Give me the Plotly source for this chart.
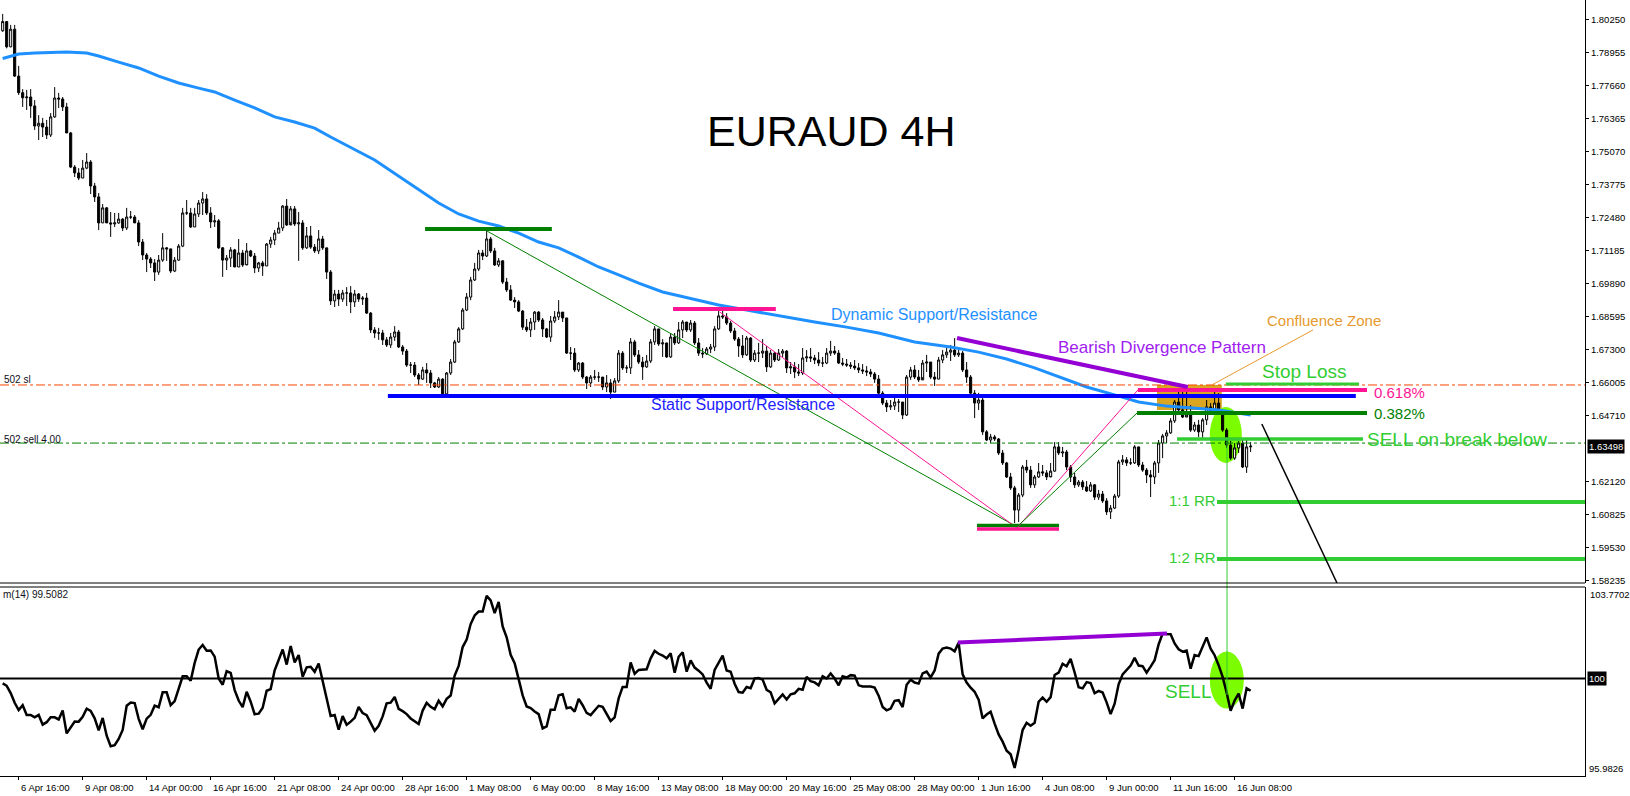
import plotly.graph_objects as go

# ---------------- data (EURAUD, 4H bars, bar 0 = 6 Apr 00:00) ----------------
first_open = 1.7980
closes = [
    1.8016, 1.7917, 1.7986, 1.7802, 1.7737, 1.7717, 1.7720, 1.7685, 1.7606, 1.7617,
    1.7602, 1.7571, 1.7642, 1.7716, 1.7712, 1.7681, 1.7579, 1.7445, 1.7422, 1.7402,
    1.7441, 1.7465, 1.7371, 1.7328, 1.7226, 1.7285, 1.7226, 1.7222, 1.7226, 1.7241,
    1.7206, 1.7249, 1.7249, 1.7226, 1.7151, 1.7100, 1.7084, 1.7069, 1.7033, 1.7080,
    1.7128, 1.7124, 1.7037, 1.7080, 1.7135, 1.7265, 1.7265, 1.7210, 1.7261, 1.7304,
    1.7320, 1.7265, 1.7230, 1.7234, 1.7128, 1.7080, 1.7088, 1.7120, 1.7053, 1.7108,
    1.7061, 1.7116, 1.7096, 1.7049, 1.7069, 1.7057, 1.7143, 1.7159, 1.7186, 1.7206,
    1.7292, 1.7218, 1.7281, 1.7222, 1.7226, 1.7128, 1.7175, 1.7131, 1.7116, 1.7163,
    1.7128, 1.7033, 1.6920, 1.6947, 1.6927, 1.6951, 1.6951, 1.6916, 1.6947, 1.6927,
    1.6931, 1.6872, 1.6806, 1.6794, 1.6794, 1.6767, 1.6747, 1.6778, 1.6798, 1.6739,
    1.6723, 1.6668, 1.6668, 1.6629, 1.6613, 1.6649, 1.6637, 1.6598, 1.6582, 1.6613,
    1.6555, 1.6637, 1.6680, 1.6759, 1.6810, 1.6884, 1.6935, 1.7002, 1.7045, 1.7108,
    1.7096, 1.7163, 1.7116, 1.7061, 1.7077, 1.6994, 1.6963, 1.6923, 1.6916, 1.6880,
    1.6817, 1.6806, 1.6837, 1.6876, 1.6845, 1.6810, 1.6778, 1.6841, 1.6857, 1.6876,
    1.6853, 1.6715, 1.6715, 1.6649, 1.6676, 1.6621, 1.6598, 1.6621, 1.6621, 1.6621,
    1.6582, 1.6598, 1.6562, 1.6606, 1.6715, 1.6657, 1.6657, 1.6759, 1.6708, 1.6680,
    1.6661, 1.6684, 1.6759, 1.6810, 1.6751, 1.6755, 1.6700, 1.6778, 1.6755, 1.6806,
    1.6837, 1.6806, 1.6833, 1.6755, 1.6715, 1.6712, 1.6731, 1.6739, 1.6810, 1.6861,
    1.6857, 1.6833, 1.6802, 1.6770, 1.6743, 1.6708, 1.6774, 1.6688, 1.6715, 1.6715,
    1.6723, 1.6661, 1.6715, 1.6688, 1.6715, 1.6723, 1.6657, 1.6661, 1.6641, 1.6637,
    1.6696, 1.6700, 1.6696, 1.6688, 1.6676, 1.6676, 1.6715, 1.6723, 1.6715, 1.6676,
    1.6672, 1.6668, 1.6664, 1.6657, 1.6649, 1.6645, 1.6641, 1.6633, 1.6613, 1.6558,
    1.6519, 1.6504, 1.6508, 1.6523, 1.6523, 1.6472, 1.6621, 1.6649, 1.6621, 1.6610,
    1.6676, 1.6680, 1.6621, 1.6613, 1.6688, 1.6708, 1.6719, 1.6727, 1.6708, 1.6715,
    1.6649, 1.6621, 1.6558, 1.6519, 1.6531, 1.6406, 1.6374, 1.6386, 1.6378, 1.6323,
    1.6284, 1.6229, 1.6186, 1.6099, 1.6158, 1.6268, 1.6256, 1.6198, 1.6229, 1.6249,
    1.6245, 1.6229, 1.6252, 1.6347, 1.6323, 1.6327, 1.6268, 1.6229, 1.6198, 1.6209,
    1.6190, 1.6174, 1.6198, 1.6150, 1.6162, 1.6135, 1.6092, 1.6107, 1.6154, 1.6288,
    1.6296, 1.6284, 1.6284, 1.6347, 1.6276, 1.6256, 1.6237, 1.6229, 1.6284, 1.6362,
    1.6390, 1.6402, 1.6449, 1.6523, 1.6492, 1.6464, 1.6472, 1.6413, 1.6433, 1.6406,
    1.6453, 1.6504, 1.6484, 1.6519, 1.6480, 1.6413, 1.6354, 1.6303, 1.6343, 1.6362,
    1.6268, 1.6347, 1.63498,
]
highs = [
    1.8046, 1.8003, 1.8003, 1.8003, 1.7842, 1.7751, 1.7748, 1.7751, 1.7708, 1.7649,
    1.7638, 1.7630, 1.7657, 1.7759, 1.7736, 1.7720, 1.7697, 1.7583, 1.7453, 1.7441,
    1.7473, 1.7500, 1.7473, 1.7383, 1.7343, 1.7300, 1.7288, 1.7269, 1.7265, 1.7265,
    1.7245, 1.7285, 1.7273, 1.7257, 1.7237, 1.7163, 1.7108, 1.7092, 1.7084, 1.7100,
    1.7186, 1.7131, 1.7092, 1.7092, 1.7143, 1.7285, 1.7316, 1.7285, 1.7285, 1.7316,
    1.7347, 1.7339, 1.7288, 1.7257, 1.7241, 1.7131, 1.7100, 1.7131, 1.7124, 1.7163,
    1.7120, 1.7147, 1.7120, 1.7108, 1.7073, 1.7077, 1.7147, 1.7171, 1.7198, 1.7230,
    1.7296, 1.7320, 1.7292, 1.7292, 1.7269, 1.7237, 1.7210, 1.7214, 1.7143, 1.7198,
    1.7175, 1.7128, 1.7041, 1.6963, 1.6963, 1.6963, 1.6974, 1.6978, 1.6963, 1.6951,
    1.6939, 1.6951, 1.6876, 1.6817, 1.6814, 1.6806, 1.6778, 1.6794, 1.6821, 1.6806,
    1.6747, 1.6731, 1.6680, 1.6680, 1.6637, 1.6661, 1.6676, 1.6649, 1.6602, 1.6621,
    1.6617, 1.6641, 1.6692, 1.6767, 1.6817, 1.6892, 1.6951, 1.7014, 1.7069, 1.7120,
    1.7120, 1.7194, 1.7171, 1.7128, 1.7088, 1.7080, 1.7010, 1.6982, 1.6935, 1.6923,
    1.6884, 1.6849, 1.6853, 1.6880, 1.6880, 1.6853, 1.6814, 1.6861, 1.6880, 1.6923,
    1.6876, 1.6853, 1.6739, 1.6735, 1.6680, 1.6680, 1.6625, 1.6629, 1.6649, 1.6641,
    1.6602, 1.6629, 1.6613, 1.6617, 1.6727, 1.6723, 1.6668, 1.6774, 1.6767, 1.6727,
    1.6700, 1.6708, 1.6770, 1.6821, 1.6782, 1.6770, 1.6755, 1.6794, 1.6794, 1.6837,
    1.6845, 1.6837, 1.6845, 1.6841, 1.6774, 1.6735, 1.6739, 1.6751, 1.6821, 1.6880,
    1.6884, 1.6872, 1.6841, 1.6814, 1.6778, 1.6786, 1.6782, 1.6778, 1.6727, 1.6755,
    1.6770, 1.6743, 1.6727, 1.6719, 1.6731, 1.6731, 1.6727, 1.6680, 1.6680, 1.6672,
    1.6735, 1.6727, 1.6735, 1.6708, 1.6719, 1.6700, 1.6735, 1.6763, 1.6743, 1.6727,
    1.6696, 1.6692, 1.6680, 1.6688, 1.6676, 1.6672, 1.6664, 1.6653, 1.6641, 1.6629,
    1.6566, 1.6531, 1.6531, 1.6539, 1.6535, 1.6523, 1.6629, 1.6661, 1.6668, 1.6649,
    1.6688, 1.6708, 1.6680, 1.6641, 1.6700, 1.6727, 1.6743, 1.6747, 1.6774, 1.6735,
    1.6723, 1.6680, 1.6629, 1.6570, 1.6559, 1.6547, 1.6413, 1.6398, 1.6394, 1.6382,
    1.6335, 1.6288, 1.6245, 1.6194, 1.6166, 1.6276, 1.6296, 1.6272, 1.6237, 1.6284,
    1.6276, 1.6256, 1.6284, 1.6366, 1.6366, 1.6347, 1.6335, 1.6276, 1.6245, 1.6217,
    1.6217, 1.6213, 1.6209, 1.6201, 1.6178, 1.6174, 1.6146, 1.6119, 1.6162, 1.6296,
    1.6315, 1.6307, 1.6303, 1.6354, 1.6347, 1.6288, 1.6264, 1.6256, 1.6292, 1.6374,
    1.6398, 1.6413, 1.6460, 1.6531, 1.6570, 1.6570, 1.6578, 1.6511, 1.6445, 1.6453,
    1.6460, 1.6531, 1.6519, 1.6570, 1.6558, 1.6492, 1.6421, 1.6370, 1.6362, 1.6370,
    1.6374, 1.6374, 1.6366,
]
lows = [
    1.7976, 1.7911, 1.7915, 1.7799, 1.7728, 1.7681, 1.7669, 1.7638, 1.7591, 1.7551,
    1.7563, 1.7555, 1.7563, 1.7638, 1.7677, 1.7665, 1.7579, 1.7441, 1.7406, 1.7394,
    1.7402, 1.7437, 1.7339, 1.7308, 1.7198, 1.7226, 1.7226, 1.7171, 1.7210, 1.7222,
    1.7194, 1.7198, 1.7241, 1.7226, 1.7135, 1.7080, 1.7033, 1.7049, 1.6998, 1.7022,
    1.7073, 1.7077, 1.7029, 1.7033, 1.7077, 1.7131, 1.7257, 1.7206, 1.7210, 1.7249,
    1.7257, 1.7257, 1.7206, 1.7210, 1.7124, 1.7014, 1.7041, 1.7053, 1.7053, 1.7053,
    1.7053, 1.7065, 1.7092, 1.7029, 1.7033, 1.7018, 1.7057, 1.7128, 1.7139, 1.7186,
    1.7194, 1.7214, 1.7230, 1.7214, 1.7077, 1.7120, 1.7124, 1.7124, 1.7108, 1.7104,
    1.7120, 1.7006, 1.6904, 1.6896, 1.6900, 1.6916, 1.6900, 1.6872, 1.6896, 1.6916,
    1.6904, 1.6869, 1.6794, 1.6774, 1.6767, 1.6747, 1.6739, 1.6735, 1.6763, 1.6735,
    1.6708, 1.6661, 1.6637, 1.6621, 1.6590, 1.6610, 1.6598, 1.6578, 1.6578, 1.6578,
    1.6539, 1.6551, 1.6629, 1.6676, 1.6755, 1.6806, 1.6880, 1.6923, 1.6998, 1.7037,
    1.7080, 1.7092, 1.7108, 1.7057, 1.7053, 1.6986, 1.6955, 1.6920, 1.6892, 1.6876,
    1.6806, 1.6798, 1.6778, 1.6806, 1.6837, 1.6778, 1.6774, 1.6759, 1.6833, 1.6845,
    1.6837, 1.6712, 1.6688, 1.6641, 1.6641, 1.6613, 1.6574, 1.6582, 1.6610, 1.6602,
    1.6570, 1.6562, 1.6535, 1.6562, 1.6598, 1.6649, 1.6637, 1.6633, 1.6700, 1.6672,
    1.6610, 1.6657, 1.6676, 1.6747, 1.6743, 1.6700, 1.6696, 1.6696, 1.6747, 1.6751,
    1.6774, 1.6798, 1.6798, 1.6747, 1.6704, 1.6696, 1.6708, 1.6715, 1.6723, 1.6806,
    1.6849, 1.6825, 1.6794, 1.6763, 1.6700, 1.6696, 1.6704, 1.6680, 1.6680, 1.6680,
    1.6696, 1.6641, 1.6657, 1.6680, 1.6684, 1.6700, 1.6637, 1.6633, 1.6617, 1.6625,
    1.6629, 1.6680, 1.6680, 1.6672, 1.6664, 1.6661, 1.6672, 1.6704, 1.6708, 1.6672,
    1.6664, 1.6661, 1.6653, 1.6649, 1.6637, 1.6633, 1.6625, 1.6621, 1.6598, 1.6543,
    1.6511, 1.6484, 1.6492, 1.6492, 1.6484, 1.6456, 1.6468, 1.6610, 1.6613, 1.6602,
    1.6621, 1.6641, 1.6613, 1.6586, 1.6613, 1.6676, 1.6696, 1.6684, 1.6700, 1.6700,
    1.6641, 1.6598, 1.6551, 1.6460, 1.6492, 1.6394, 1.6370, 1.6362, 1.6370, 1.6315,
    1.6276, 1.6225, 1.6178, 1.6048, 1.6052, 1.6150, 1.6245, 1.6186, 1.6186, 1.6225,
    1.6233, 1.6217, 1.6233, 1.6249, 1.6315, 1.6307, 1.6256, 1.6209, 1.6186, 1.6190,
    1.6178, 1.6170, 1.6170, 1.6139, 1.6139, 1.6127, 1.6080, 1.6064, 1.6103, 1.6147,
    1.6276, 1.6272, 1.6276, 1.6280, 1.6268, 1.6249, 1.6205, 1.6150, 1.6201, 1.6245,
    1.6303, 1.6362, 1.6398, 1.6441, 1.6484, 1.6460, 1.6464, 1.6406, 1.6406, 1.6386,
    1.6382, 1.6433, 1.6476, 1.6488, 1.6472, 1.6406, 1.6343, 1.6296, 1.6296, 1.6323,
    1.6264, 1.6245, 1.6327,
]
# each 4H candle opens where the previous one closed
opens = [first_open] + closes[:-1]

# blue moving average, read at these bars
ma_bars = [0, 4, 8, 16, 21, 24, 29, 34, 39, 44, 49, 53, 58, 63, 68, 73, 78, 82, 93, 104,
           109, 114, 119, 124, 129, 134, 139, 144, 149, 154, 159, 165, 174, 179, 186, 194,
           203, 211, 219, 228, 237, 244, 251, 258, 264, 271, 278, 284, 291, 298, 304, 312]
ma_vals = [1.7871, 1.7889, 1.7893, 1.7897, 1.7893, 1.7881, 1.7857, 1.7834, 1.7802, 1.7775,
           1.7755, 1.7740, 1.7708, 1.7677, 1.7642, 1.7622, 1.7598, 1.7563, 1.7473, 1.7355,
           1.7304, 1.7261, 1.7233, 1.7214, 1.7186, 1.7151, 1.7128, 1.7092, 1.7053, 1.7022,
           1.6990, 1.6955, 1.6923, 1.6904, 1.6884, 1.6861, 1.6837, 1.6817, 1.6794, 1.6759,
           1.6739, 1.6719, 1.6692, 1.6657, 1.6621, 1.6582, 1.6551, 1.6523, 1.6507, 1.6500,
           1.6492, 1.6472]

# Momentum(14): first 14 values, the rest follow MT4's definition
mom_period = 14
mom_head = [99.8, 99.7, 99.4, 99.0, 98.7, 98.9, 98.5, 98.5, 98.4, 98.5, 98.1, 98.2, 98.4, 98.4]
momentum = mom_head + [100.0 * closes[k] / closes[k - mom_period]
                       for k in range(mom_period, len(closes))]

price_ticks = [1.58235, 1.59530, 1.60825, 1.62120, 1.64710, 1.66005, 1.67300, 1.68595,
               1.69890, 1.71185, 1.72480, 1.73775, 1.75070, 1.76365, 1.77660, 1.78955, 1.80250]
date_label_bars = [4, 20, 36, 52, 68, 84, 100, 116, 132, 148, 164, 180, 196, 212, 228, 244,
                   260, 276, 292, 308]
date_labels = ["6 Apr 16:00", "9 Apr 08:00", "14 Apr 00:00", "16 Apr 16:00", "21 Apr 08:00",
               "24 Apr 00:00", "28 Apr 16:00", "1 May 08:00", "6 May 00:00", "8 May 16:00",
               "13 May 08:00", "18 May 00:00", "20 May 16:00", "25 May 08:00", "28 May 00:00",
               "1 Jun 16:00", "4 Jun 08:00", "9 Jun 00:00", "11 Jun 16:00", "16 Jun 08:00"]

current_price = 1.63498
stop_level = 1.6590
sell_order_level = 1.6362
mom_last = 99.5082
mom_min, mom_max = 95.9826, 103.7702
price_min, price_max = 1.58129, 1.81007
bar_min, bar_max = -0.67, 395.6

# drawn analysis objects (bar index, price)
peak1_bar = (105.6, 137.3, 1.7202)
peak1_line = ((121.1, 1.7194), (253.6, 1.6033))
peak2_bar = (167.6, 193.3, 1.6888)
peak2_line = ((179.3, 1.6876), (253.6, 1.6029))
low_green = (243.6, 264.1, 1.6039)
low_pink = (243.6, 264.1, 1.6025)
fib618_line = ((253.6, 1.6029), (283.8, 1.6570))
fib618_level = (283.8, 341.1, 1.6570)
fib382_line = ((253.6, 1.6033), (283.6, 1.6480))
fib382_level = (283.6, 341.1, 1.6480)
static_sr = (96.3, 338.3, 1.6547)
divergence_price = ((238.6, 1.6774), (296.3, 1.6582))
divergence_mom = ((238.8, 101.48), (291.1, 101.85))
confluence_box = (288.6, 304.8, 1.6492, 1.6590)
confluence_pointer = ((302.3, 1.6590), (327.6, 1.6806))
stop_loss = (305.8, 339.1, 1.6594)
sell_break = (293.6, 340.1, 1.6378)
rr_1 = (303.6, 1.6131)
rr_2 = (303.6, 1.5907)
projection = ((314.8, 1.6437), (333.6, 1.58129))
sell_bar = 306.1
sell_ellipse_price = (301.8, 309.8, 1.6284, 1.6504)
sell_ellipse_mom = (301.8, 310.3, 98.76, 101.11)

# ---------------- figure ----------------
W, H = 1630, 796
L, R, T, B = 0, 45, 0, 20
plot_h = H - T - B
main_dom = [(plot_h - 583) / plot_h, 1.0]
mom_dom = [0.0, (plot_h - 587) / plot_h]

LIME = "#32CD32"
DGREEN = "#008000"
PINK = "#FF1493"
PURPLE = "#9400D3"
AXFONT = "Liberation Sans, Arial, sans-serif"
TXFONT = "Liberation Sans, Arial, sans-serif"
AXSIZE = 9.5

bars = list(range(len(closes)))
fig = go.Figure()

fig.add_trace(go.Candlestick(
    x=bars, open=opens, high=highs, low=lows, close=closes,
    increasing=dict(line=dict(color="black", width=1), fillcolor="white"),
    decreasing=dict(line=dict(color="black", width=1), fillcolor="black"),
    whiskerwidth=0, showlegend=False, xaxis="x", yaxis="y", hoverinfo="skip"))

fig.add_trace(go.Scatter(x=ma_bars, y=ma_vals, mode="lines", line=dict(color="#1E90FF", width=3),
                         showlegend=False, xaxis="x", yaxis="y", hoverinfo="skip"))

fig.add_trace(go.Scatter(x=bars, y=momentum, mode="lines", line=dict(color="black", width=2.5),
                         showlegend=False, xaxis="x", yaxis="y2", hoverinfo="skip"))

shapes = []


def seg(p0, p1, color, width, yref="y", dash="solid", layer="above"):
    shapes.append(dict(type="line", xref="x", yref=yref, x0=p0[0], y0=p0[1], x1=p1[0], y1=p1[1],
                       line=dict(color=color, width=width, dash=dash), layer=layer))


def hseg(spec, color, width, yref="y", dash="solid"):
    seg((spec[0], spec[2]), (spec[1], spec[2]), color, width, yref, dash)


# background objects
shapes.append(dict(type="rect", xref="x", yref="y", x0=confluence_box[0], x1=confluence_box[1],
                   y0=confluence_box[2], y1=confluence_box[3], fillcolor="#DAA520",
                   line=dict(width=0), layer="below"))
shapes.append(dict(type="circle", xref="x", yref="y", x0=sell_ellipse_price[0], x1=sell_ellipse_price[1],
                   y0=sell_ellipse_price[2], y1=sell_ellipse_price[3], fillcolor="#7CFC00",
                   line=dict(width=0), layer="below"))
shapes.append(dict(type="circle", xref="x", yref="y2", x0=sell_ellipse_mom[0], x1=sell_ellipse_mom[1],
                   y0=sell_ellipse_mom[2], y1=sell_ellipse_mom[3], fillcolor="#7CFC00",
                   line=dict(width=0), layer="below"))

# order lines
seg((bar_min, stop_level), (bar_max, stop_level), "#FF4500", 1, dash="dashdot")
seg((bar_min, sell_order_level), (bar_max, sell_order_level), DGREEN, 1, dash="dashdot")

# pattern lines
hseg(peak1_bar, DGREEN, 4)
seg(*peak1_line, DGREEN, 1)
hseg(peak2_bar, PINK, 4)
seg(*peak2_line, PINK, 1)
hseg(low_green, DGREEN, 3.5)
hseg(low_pink, PINK, 3.5)
seg(*fib618_line, PINK, 1)
seg(*fib382_line, DGREEN, 1)
hseg(static_sr, "#0000FF", 4)
hseg(fib618_level, PINK, 4)
hseg(fib382_level, DGREEN, 4)
seg(*divergence_price, PURPLE, 4)
seg(*confluence_pointer, "#E69A2E", 1)
hseg(stop_loss, LIME, 3)
hseg(sell_break, LIME, 3.5)
seg(rr_1, (bar_max, rr_1[1]), LIME, 4)
seg(rr_2, (bar_max, rr_2[1]), LIME, 4)
seg(*projection, "black", 1.5)
seg(*divergence_mom, PURPLE, 4, yref="y2")
seg((bar_min, 100), (bar_max, 100), "black", 2, yref="y2")
shapes.append(dict(type="line", xref="x", yref="paper", x0=sell_bar, x1=sell_bar,
                   y0=(plot_h - 695) / plot_h, y1=(plot_h - 440) / plot_h,
                   line=dict(color=LIME, width=1)))
# panel borders
for yy in (main_dom[0], mom_dom[1]):
    shapes.append(dict(type="line", xref="paper", yref="paper", x0=0, x1=1, y0=yy, y1=yy,
                       line=dict(color="black", width=1)))

annotations = []


def text(t, x, y, size, color, yref="y", xanchor="left", family=TXFONT, **kw):
    annotations.append(dict(text=t, x=x, y=y, xref="x", yref=yref, xanchor=xanchor,
                            yanchor="middle", showarrow=False,
                            font=dict(size=size, color=color, family=family), **kw))


text("EURAUD 4H", 207.1, 1.7579, 43, "black", xanchor="center", yshift=2)
text("Dynamic Support/Resistance", 206.6, 1.6861, 16, "#1E90FF", yshift=1)
text("Static Support/Resistance", 161.6, 1.6508, 16, "#2222FF", yshift=1)
text("Bearish Divergence Pattern", 263.3, 1.6735, 17, "#A020F0", yshift=1)
text("Confluence Zone", 315.6, 1.6841, 15, "#E69A2E", yshift=1)
text("Stop Loss", 314.3, 1.6637, 19, LIME, yshift=1)
text("0.618%", 342.3, 1.6558, 15, PINK, yshift=1)
text("0.382%", 342.3, 1.6476, 15, DGREEN, yshift=1)
text("SELL on break below", 340.6, 1.6374, 19, LIME, yshift=1)
text("1:1 RR", 291.1, rr_1[1], 15, LIME, yshift=1)
text("1:2 RR", 291.1, 1.5911, 15, LIME, yshift=1)
text("SELL", 290.1, 99.42, 19, LIME, yref="y2", yshift=1)

# MT4 object / indicator labels on the left
text("502 sl", bar_min, 1.6613, 10, "#101020", family=AXFONT, xshift=2)
text("502 sell 4.00", bar_min, 1.6378, 10, "#101020", family=AXFONT, xshift=2)
text("m(%d) %.4f" % (mom_period, mom_last), bar_min, 103.46, 10, "#101020", yref="y2",
     family=AXFONT, xshift=1)

# right scale boxes and indicator extremes
for val, yref in ((current_price, "y"), (100, "y2")):
    annotations.append(dict(text=("%.5f" % val) if yref == "y" else "100", x=1, xref="paper",
                            y=val, yref=yref, xanchor="left", yanchor="middle", xshift=2,
                            showarrow=False, bgcolor="black", borderpad=1,
                            font=dict(size=AXSIZE, color="white", family=AXFONT)))
annotations.append(dict(text="%.4f" % mom_max, x=1, xref="paper", y=mom_max, yref="y2",
                        xanchor="left", yanchor="top", xshift=3, showarrow=False,
                        font=dict(size=AXSIZE, color="black", family=AXFONT)))
annotations.append(dict(text="%.4f" % mom_min, x=1, xref="paper", y=mom_min, yref="y2",
                        xanchor="left", yanchor="bottom", xshift=2, showarrow=False,
                        font=dict(size=AXSIZE, color="black", family=AXFONT)))

# date labels (left aligned to their tick, as in MT4)
for b, lab in zip(date_label_bars, date_labels):
    annotations.append(dict(text=lab, x=b, xref="x", y=-11 / plot_h, yref="paper",
                            xanchor="left", yanchor="middle", xshift=0, showarrow=False,
                            font=dict(size=AXSIZE, color="black", family=AXFONT)))

fig.update_layout(
    width=W, height=H, margin=dict(l=L, r=R, t=T, b=B),
    paper_bgcolor="white", plot_bgcolor="white", hovermode=False, showlegend=False,
    boxgap=0.25,
    xaxis=dict(domain=[0, 1], range=[bar_min, bar_max], anchor="y2", showgrid=False,
               zeroline=False, showline=True, linecolor="black", linewidth=1,
               ticks="outside", ticklen=3, tickcolor="black", tickvals=date_label_bars,
               showticklabels=False, rangeslider=dict(visible=False), fixedrange=True),
    yaxis=dict(domain=main_dom, range=[price_min, price_max], side="right", anchor="x",
               showgrid=False, zeroline=False, showline=True, linecolor="black", linewidth=1,
               ticks="outside", ticklen=3, tickcolor="black", tickvals=price_ticks,
               ticktext=["%.5f" % v for v in price_ticks],
               tickfont=dict(size=AXSIZE, color="black", family=AXFONT)),
    yaxis2=dict(domain=mom_dom, range=[mom_min, mom_max], side="right", anchor="x",
                showgrid=False, zeroline=False, showline=True, linecolor="black", linewidth=1,
                showticklabels=False, ticks=""),
    shapes=shapes, annotations=annotations,
)

# remove the page's default 8px body margin so the figure sits at the window's corner
fig.write_html("out.html", config={"displayModeBar": False},
               post_script="document.body.style.margin='0';document.body.style.overflow='hidden';")
